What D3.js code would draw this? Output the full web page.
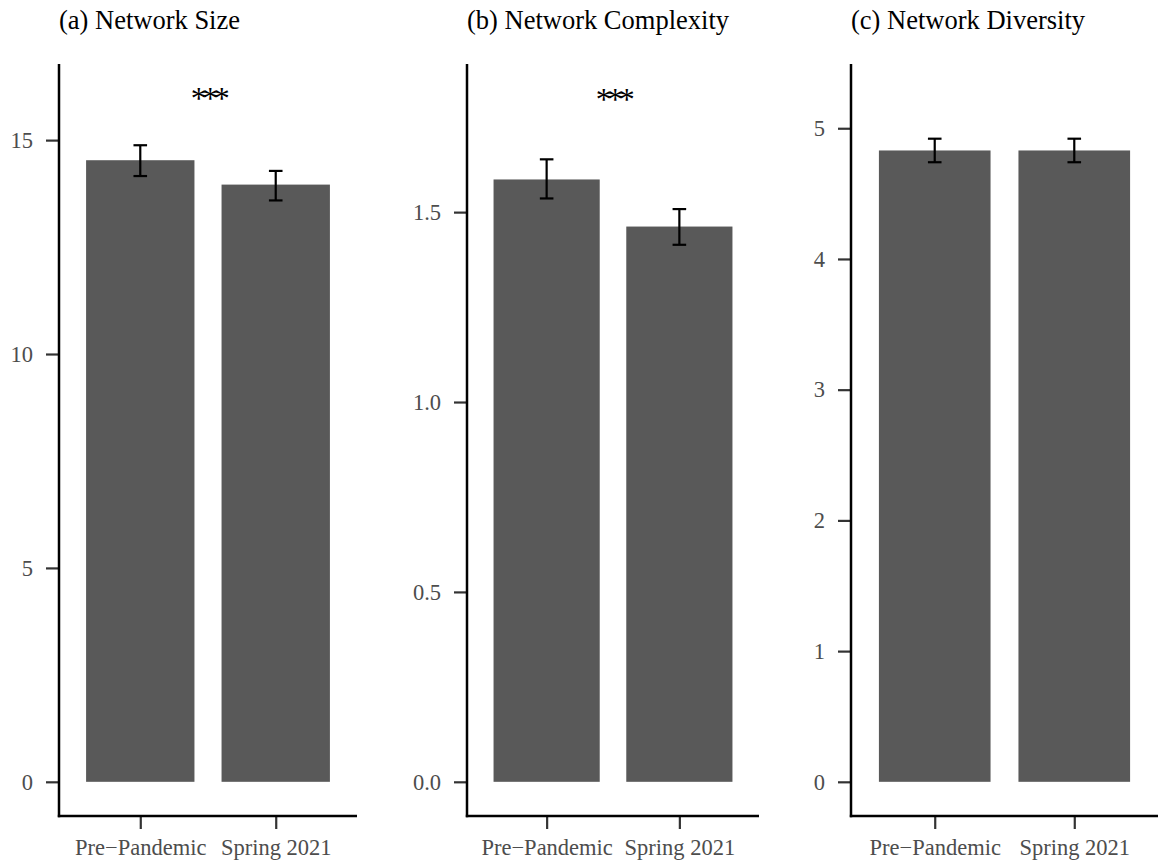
<!DOCTYPE html>
<html>
<head>
<meta charset="utf-8">
<script src="https://cdn.jsdelivr.net/npm/d3@7"></script>
<style>
  body { margin: 0; background: #fff; }
  text { font-family: "Liberation Serif", "Times New Roman", serif; }
</style>
</head>
<body>
<svg id="chart" width="1158" height="866"></svg>
<script>
// data
const groups = ["Pre\u2212Pandemic", "Spring 2021"];
const panelTitles = ["(a) Network Size", "(b) Network Complexity", "(c) Network Diversity"];
const sizeMeans = [14.53, 13.96];
const sizeErr = [[14.16, 14.88], [13.59, 14.28]];
const complexityMeans = [1.586, 1.462];
const complexityErr = [[1.536, 1.639], [1.414, 1.508]];
const diversityMeans = [4.83, 4.83];
const diversityErr = [[4.74, 4.92], [4.74, 4.92]];
const sizeTicks = [0, 5, 10, 15];
const complexityTicks = [0, 0.5, 1, 1.5];
const diversityTicks = [0, 1, 2, 3, 4, 5];
const sigLabels = ["***", "***", ""];
const sigY = [15.73, 1.770, null];
const yTop = [15.98, 1.80, 5.23];

// layout
const panelLeft = [59, 467, 851];
const panelRight = [357, 759, 1158];
const panelTop = 64, panelBottom = 816;
const tickLen = 13;
const barColor = "#595959";
const labelColor = "#4d4d4d";

const svg = d3.select("#chart");

const panels = [
  {means: sizeMeans, err: sizeErr, ticks: sizeTicks, fmt: d3.format("d")},
  {means: complexityMeans, err: complexityErr, ticks: complexityTicks, fmt: d3.format(".1f")},
  {means: diversityMeans, err: diversityErr, ticks: diversityTicks, fmt: d3.format("d")}
];

panels.forEach((p, i) => {
  const g = svg.append("g");
  // discrete positions 1,2 with 0.6 expansion each side, bars 0.8 wide
  const xc = d3.scaleLinear().domain([0.4, 2.6]).range([panelLeft[i], panelRight[i]]);
  const unit = xc(2) - xc(1);
  const y = d3.scaleLinear()
    .domain([-0.05 * yTop[i], 1.05 * yTop[i]])
    .range([panelBottom, panelTop]);

  // bars
  g.selectAll("rect.bar")
    .data(p.means)
    .join("rect")
    .attr("class", "bar")
    .attr("x", (d, k) => xc(k + 1) - unit * 0.4)
    .attr("width", unit * 0.8)
    .attr("y", d => y(d))
    .attr("height", d => y(0) - y(d))
    .attr("fill", barColor);

  // error bars
  const eb = g.selectAll("g.err")
    .data(p.err)
    .join("g")
    .attr("class", "err")
    .attr("stroke", "#000")
    .attr("stroke-width", 2.2);
  eb.append("line")
    .attr("x1", (d, k) => xc(k + 1)).attr("x2", (d, k) => xc(k + 1))
    .attr("y1", d => y(d[0])).attr("y2", d => y(d[1]));
  eb.append("line")
    .attr("x1", (d, k) => xc(k + 1) - 6.8).attr("x2", (d, k) => xc(k + 1) + 6.8)
    .attr("y1", d => y(d[0])).attr("y2", d => y(d[0]));
  eb.append("line")
    .attr("x1", (d, k) => xc(k + 1) - 6.8).attr("x2", (d, k) => xc(k + 1) + 6.8)
    .attr("y1", d => y(d[1])).attr("y2", d => y(d[1]));

  // y axis
  const yAxis = g.append("g")
    .attr("transform", `translate(${panelLeft[i]},0)`)
    .call(d3.axisLeft(y).tickValues(p.ticks).tickFormat(p.fmt).tickSize(tickLen).tickPadding(13));
  yAxis.select(".domain").remove();
  yAxis.selectAll(".tick line").attr("stroke", "#333").attr("stroke-width", 2.2);
  yAxis.selectAll(".tick text")
    .attr("fill", labelColor)
    .attr("font-size", 22.5)
    .attr("font-family", "Liberation Serif, serif");
  g.append("line")
    .attr("x1", panelLeft[i]).attr("x2", panelLeft[i])
    .attr("y1", panelTop).attr("y2", panelBottom + 1.2)
    .attr("stroke", "#000").attr("stroke-width", 2.5);

  // x axis
  const xAxis = g.append("g")
    .attr("transform", `translate(0,${panelBottom})`)
    .call(d3.axisBottom(xc).tickValues([1, 2]).tickFormat((d) => groups[d - 1]).tickSize(tickLen).tickPadding(10));
  xAxis.select(".domain").remove();
  xAxis.selectAll(".tick line").attr("stroke", "#333").attr("stroke-width", 2.2);
  xAxis.selectAll(".tick text")
    .attr("fill", labelColor)
    .attr("font-size", 22.5)
    .attr("font-family", "Liberation Serif, serif");
  g.append("line")
    .attr("x1", panelLeft[i] - 1.2).attr("x2", panelRight[i])
    .attr("y1", panelBottom).attr("y2", panelBottom)
    .attr("stroke", "#000").attr("stroke-width", 2.5);

  // significance
  if (sigLabels[i]) {
    g.append("text")
      .attr("x", xc(1.5))
      .attr("y", y(sigY[i]))
      .attr("text-anchor", "middle")
      .attr("font-size", 32)
      .attr("letter-spacing", -4.5)
      .attr("fill", "#000")
      .text(sigLabels[i]);
  }

  // title
  g.append("text")
    .attr("x", panelLeft[i])
    .attr("y", 29)
    .attr("font-size", 26.5)
    .attr("fill", "#000")
    .text(panelTitles[i]);
});
</script>
</body>
</html>
